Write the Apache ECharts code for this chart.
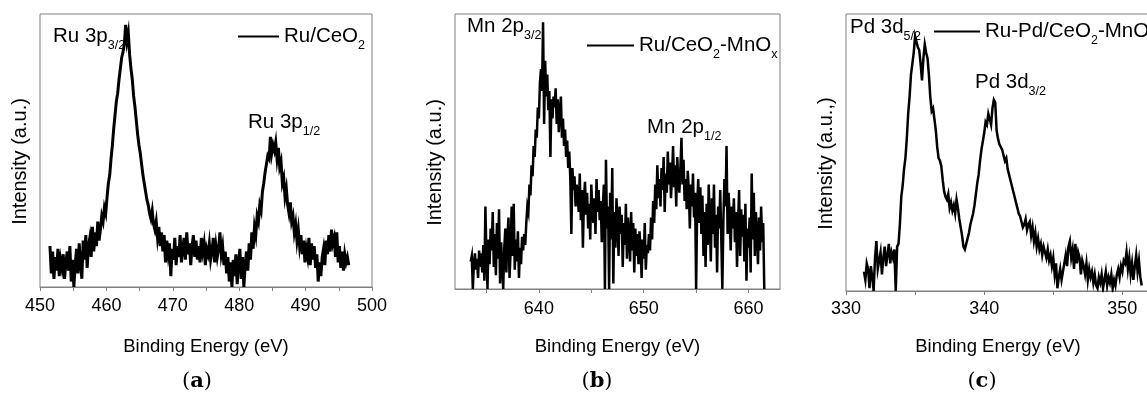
<!DOCTYPE html>
<html>
<head>
<meta charset="utf-8">
<script src="https://cdn.jsdelivr.net/npm/echarts@6/dist/echarts.min.js"></script>
<style>
  html, body { margin: 0; padding: 0; overflow: hidden; background: #fff; }
  #chart { width: 1151px; height: 394px; }
</style>
</head>
<body>
<div id="chart"></div>
<script>
// ---- (a) Ru 3p region, Ru/CeO2 : energy grid start/step and intensities (a.u.)
const ruStart = 451.5, ruStep = 0.2;
const ruIntensity = [
  15,5,13,3,11,6,14,4,10,7,
  12,3,9,13,6,15,2,10,0,8,
  14,5,16,8,3,17,10,19,7,15,
  18,11,22,13,20,15,24,17,21,26,
  24,29,27,33,38,41,47,52,58,63,
  68,71,76,80,84,86,89,96,90,93,
  85,80,76,70,66,61,56,52,49,45,
  41,38,35,32,30,27,25,28,23,21,
  24,18,22,15,20,13,19,9,17,12,
  16,4,14,10,18,8,15,11,19,9,
  14,18,10,20,12,16,8,15,19,11,
  17,10,15,9,18,13,16,8,14,12,
  16,10,13,18,9,15,11,14,20,12,
  15,8,13,5,11,2,9,0,10,4,
  12,1,9,14,3,11,0,8,13,6,
  16,10,20,14,22,19,26,24,30,28,
  35,38,42,45,48,47,55,49,52,50,
  53,47,51,44,46,38,40,33,36,30,
  27,31,24,26,20,23,17,21,15,19,
  12,17,9,14,11,18,8,16,10,15,
  7,12,2,9,4,11,14,8,17,12,
  19,13,21,16,18,11,20,9,15,7,
  13,6,12,9,11,8
];

// ---- (b) Mn 2p region, Ru/CeO2-MnOx
const mnStart = 633.5, mnStep = 0.1;
const mnIntensity = [
  10,12,0,9,13,7,11,4,14,8,
  13,6,16,3,30,12,0,18,9,22,
  14,28,8,20,5,24,11,29,2,17,
  9,0,15,22,6,19,26,4,13,30,
  12,31,7,18,10,21,4,15,9,19,
  14,20,16,24,30,28,38,34,45,41,
  52,48,58,55,66,62,75,80,72,97,
  60,83,70,78,65,72,48,69,62,70,
  66,73,60,69,57,64,70,55,62,52,
  58,48,54,44,50,40,20,44,36,41,
  30,38,34,28,42,25,36,15,33,39,
  27,35,22,31,18,38,29,24,33,20,
  40,28,36,25,32,17,30,38,0,47,
  22,30,0,35,18,44,2,28,15,33,
  25,12,30,20,27,8,24,16,31,11,
  26,19,10,28,14,24,6,22,12,20,
  9,21,15,4,18,11,24,7,16,13,
  20,14,26,18,32,24,38,29,45,33,
  40,30,44,36,48,28,42,35,50,38,
  46,33,41,52,37,45,30,48,40,35,
  44,55,38,47,32,40,29,43,36,22,
  38,30,42,26,35,0,30,40,24,37,
  20,34,12,28,8,31,16,38,25,10,
  33,20,38,15,27,6,30,22,36,18,
  0,25,40,30,52,20,35,26,14,30,
  22,33,17,28,8,24,36,12,29,19,
  27,10,31,3,22,15,26,6,42,18,
  35,12,28,20,9,26,14,30,17,24,
  0
];

// ---- (c) Pd 3d region, Ru-Pd/CeO2-MnOx
const pdStart = 331.3, pdStep = 0.1;
const pdIntensity = [
  7,4,10,8,1,9,5,0,12,18,
  8,11,14,6,12,16,9,13,17,10,
  14,12,15,0,16,17,24,34,38,44,
  48,55,64,70,78,82,86,92,90,88,
  87,82,76,84,89,86,84,78,70,65,
  66,62,58,52,48,47,45,40,36,34,
  33,35,30,32,29,31,28,33,30,26,
  23,20,16,15,17,19,21,24,26,28,
  31,35,39,42,47,51,54,57,61,60,
  64,62,60,66,69,68,58,55,53,52,
  51,49,47,48,44,42,40,38,36,34,
  32,30,28,27,25,23,24,26,22,24,
  25,20,23,18,21,16,19,15,17,13,
  16,14,12,15,11,13,9,12,6,10,
  1,5,8,4,7,10,13,9,16,18,
  12,15,8,17,10,14,12,6,11,9,
  6,10,4,8,5,7,3,6,2,1,
  5,3,6,1,4,7,2,5,3,6,
  1,4,2,6,8,5,9,7,11,10,
  14,8,12,6,10,4,9,13,7,11,
  5,2
];

// ---- axis ranges, tick positions and tick labels (eV)
const ruRange = [450, 500];
const mnRange = [632, 663];
const pdRange = [330, 352];
const ruTicks = [450, 455, 460, 465, 470, 475, 480, 485, 490, 495, 500];
const mnTicks = [635, 640, 645, 650, 655, 660];
const pdTicks = [330, 335, 340, 345, 350];
const ruLabels = [450, 460, 470, 480, 490, 500];
const mnLabels = [640, 650, 660];
const pdLabels = [330, 340, 350];

// ---- names and annotations
const seriesNames = ['Ru/CeO2', 'Ru/CeO2-MnOx', 'Ru-Pd/CeO2-MnOx'];
const legendRich = {
  'Ru/CeO2': '{m|Ru/CeO}{s|2}',
  'Ru/CeO2-MnOx': '{m|Ru/CeO}{s|2}{m|-MnO}{s|x}',
  'Ru-Pd/CeO2-MnOx': '{m|Ru-Pd/CeO}{s|2}{m|-MnO}{s|x}'
};
const yTitles = ['Intensity (a.u.)', 'Intensity (a.u.)', 'Intensity (a.u.,)'];
const xTitle = 'Binding Energy (eV)';
const panelLetters = ['a', 'b', 'c'];

const FONT = "'Liberation Sans', Arial, Helvetica, sans-serif";
const SERIF = "'DejaVu Serif', 'Liberation Serif', serif";
const FRAME = '#808080';
const INNER_FONT = 20.5;   // peak labels and legend text
const SUB_FONT = 12.5;     // subscripts

function toPoints(start, step, values) {
  return values.map((v, i) => [Number((start + i * step).toFixed(2)), v]);
}

const grids = [
  { left: 40, top: 14, width: 332, height: 273 },
  { left: 455, top: 14, width: 325, height: 275 },
  { left: 846, top: 14, width: 304, height: 277 }
].map(g => Object.assign({ show: true, borderColor: FRAME, borderWidth: 1, backgroundColor: 'transparent' }, g));

const ranges = [ruRange, mnRange, pdRange];
const ticks = [ruTicks, mnTicks, pdTicks];
const labels = [ruLabels, mnLabels, pdLabels];
const xNameGaps = [50, 48, 46];
const labelMargins = [10, 11, 9];

const xAxes = ranges.map((r, i) => ({
  type: 'value', gridIndex: i, min: r[0], max: r[1],
  axisLine: { show: true, lineStyle: { color: FRAME, width: 1 } },
  axisTick: { show: true, inside: false, length: 4, customValues: ticks[i], lineStyle: { color: FRAME, width: 1 } },
  axisLabel: { show: true, customValues: labels[i], color: '#000', fontSize: 18, fontFamily: FONT, margin: labelMargins[i] },
  splitLine: { show: false },
  name: xTitle, nameLocation: 'middle', nameGap: xNameGaps[i],
  nameTextStyle: { color: '#000', fontSize: 18.5, fontFamily: FONT }
}));

const yAxes = yTitles.map((t, i) => ({
  type: 'value', gridIndex: i, min: 0, max: 100,
  axisLine: { show: false }, axisTick: { show: false }, axisLabel: { show: false }, splitLine: { show: false },
  name: t, nameLocation: 'middle', nameGap: 10, nameRotate: 90,
  nameTextStyle: { color: '#000', fontSize: 20, fontFamily: FONT, padding: [0, 22, 0, 0] }
}));

const starts = [ruStart, mnStart, pdStart];
const steps = [ruStep, mnStep, pdStep];
const values = [ruIntensity, mnIntensity, pdIntensity];
const lineWidths = [3, 2.5, 2.5];

const series = seriesNames.map((name, i) => ({
  type: 'line', name, xAxisIndex: i, yAxisIndex: i,
  data: toPoints(starts[i], steps[i], values[i]),
  symbol: 'none', showSymbol: false, smooth: false, animation: false,
  lineStyle: { color: '#000', width: lineWidths[i], join: 'miter' }, itemStyle: { color: '#000' }
}));

const legendCommonRich = {
  m: { fontSize: INNER_FONT, lineHeight: 32, fontFamily: FONT, color: '#000' },
  s: { fontSize: SUB_FONT, lineHeight: 12, verticalAlign: 'bottom', fontFamily: FONT, color: '#000' }
};
// icon line: left edge, vertical centre, length
const legendPos = [
  { left: 238, lineY: 35, w: 41 },
  { left: 587, lineY: 44, w: 47 },
  { left: 934, lineY: 30, w: 46 }
];
const legends = seriesNames.map((name, i) => ({
  data: [{ name, icon: 'rect' }], left: legendPos[i].left, top: legendPos[i].lineY - 9,
  orient: 'horizontal', selectedMode: false, padding: 0,
  itemWidth: legendPos[i].w, itemHeight: 2.2,
  itemStyle: { color: '#000', borderWidth: 0 },
  formatter: n => legendRich[n],
  textStyle: { fontSize: INNER_FONT, fontFamily: FONT, color: '#000', rich: legendCommonRich }
}));

const graphicRich = {
  m: { fontSize: INNER_FONT, lineHeight: 32, fontFamily: FONT, fill: '#000' },
  s: { fontSize: SUB_FONT, lineHeight: 12, verticalAlign: 'bottom', fontFamily: FONT, fill: '#000' }
};
function peakLabel(main, sub, x, y) {
  return {
    type: 'text', x, y, silent: true,
    style: { text: '{m|' + main + '}{s|' + sub + '}', rich: graphicRich, align: 'left', verticalAlign: 'middle', fill: '#000', fontSize: INNER_FONT, fontFamily: FONT }
  };
}
function panelLabel(letter, x, y) {
  return {
    type: 'text', x, y, silent: true,
    style: {
      text: '({b|' + letter + '})', align: 'center', verticalAlign: 'middle',
      fill: '#000', fontSize: 21, fontFamily: SERIF,
      rich: { b: { fontSize: 21, fontFamily: SERIF, fontWeight: 'bold', fill: '#000' } }
    }
  };
}

const graphic = [
  peakLabel('Ru 3p', '3/2', 53, 36),
  peakLabel('Ru 3p', '1/2', 248, 122),
  peakLabel('Mn 2p', '3/2', 467, 26),
  peakLabel('Mn 2p', '1/2', 647, 127),
  peakLabel('Pd 3d', '5/2', 850, 27),
  peakLabel('Pd 3d', '3/2', 975, 82),
  panelLabel(panelLetters[0], 197, 382),
  panelLabel(panelLetters[1], 597, 382),
  panelLabel(panelLetters[2], 982, 382)
];

const chart = echarts.init(document.getElementById('chart'), null, { renderer: 'canvas' });
chart.setOption({
  animation: false,
  backgroundColor: '#fff',
  textStyle: { fontFamily: FONT },
  grid: grids,
  xAxis: xAxes,
  yAxis: yAxes,
  legend: legends,
  series,
  graphic
});
</script>
</body>
</html>
